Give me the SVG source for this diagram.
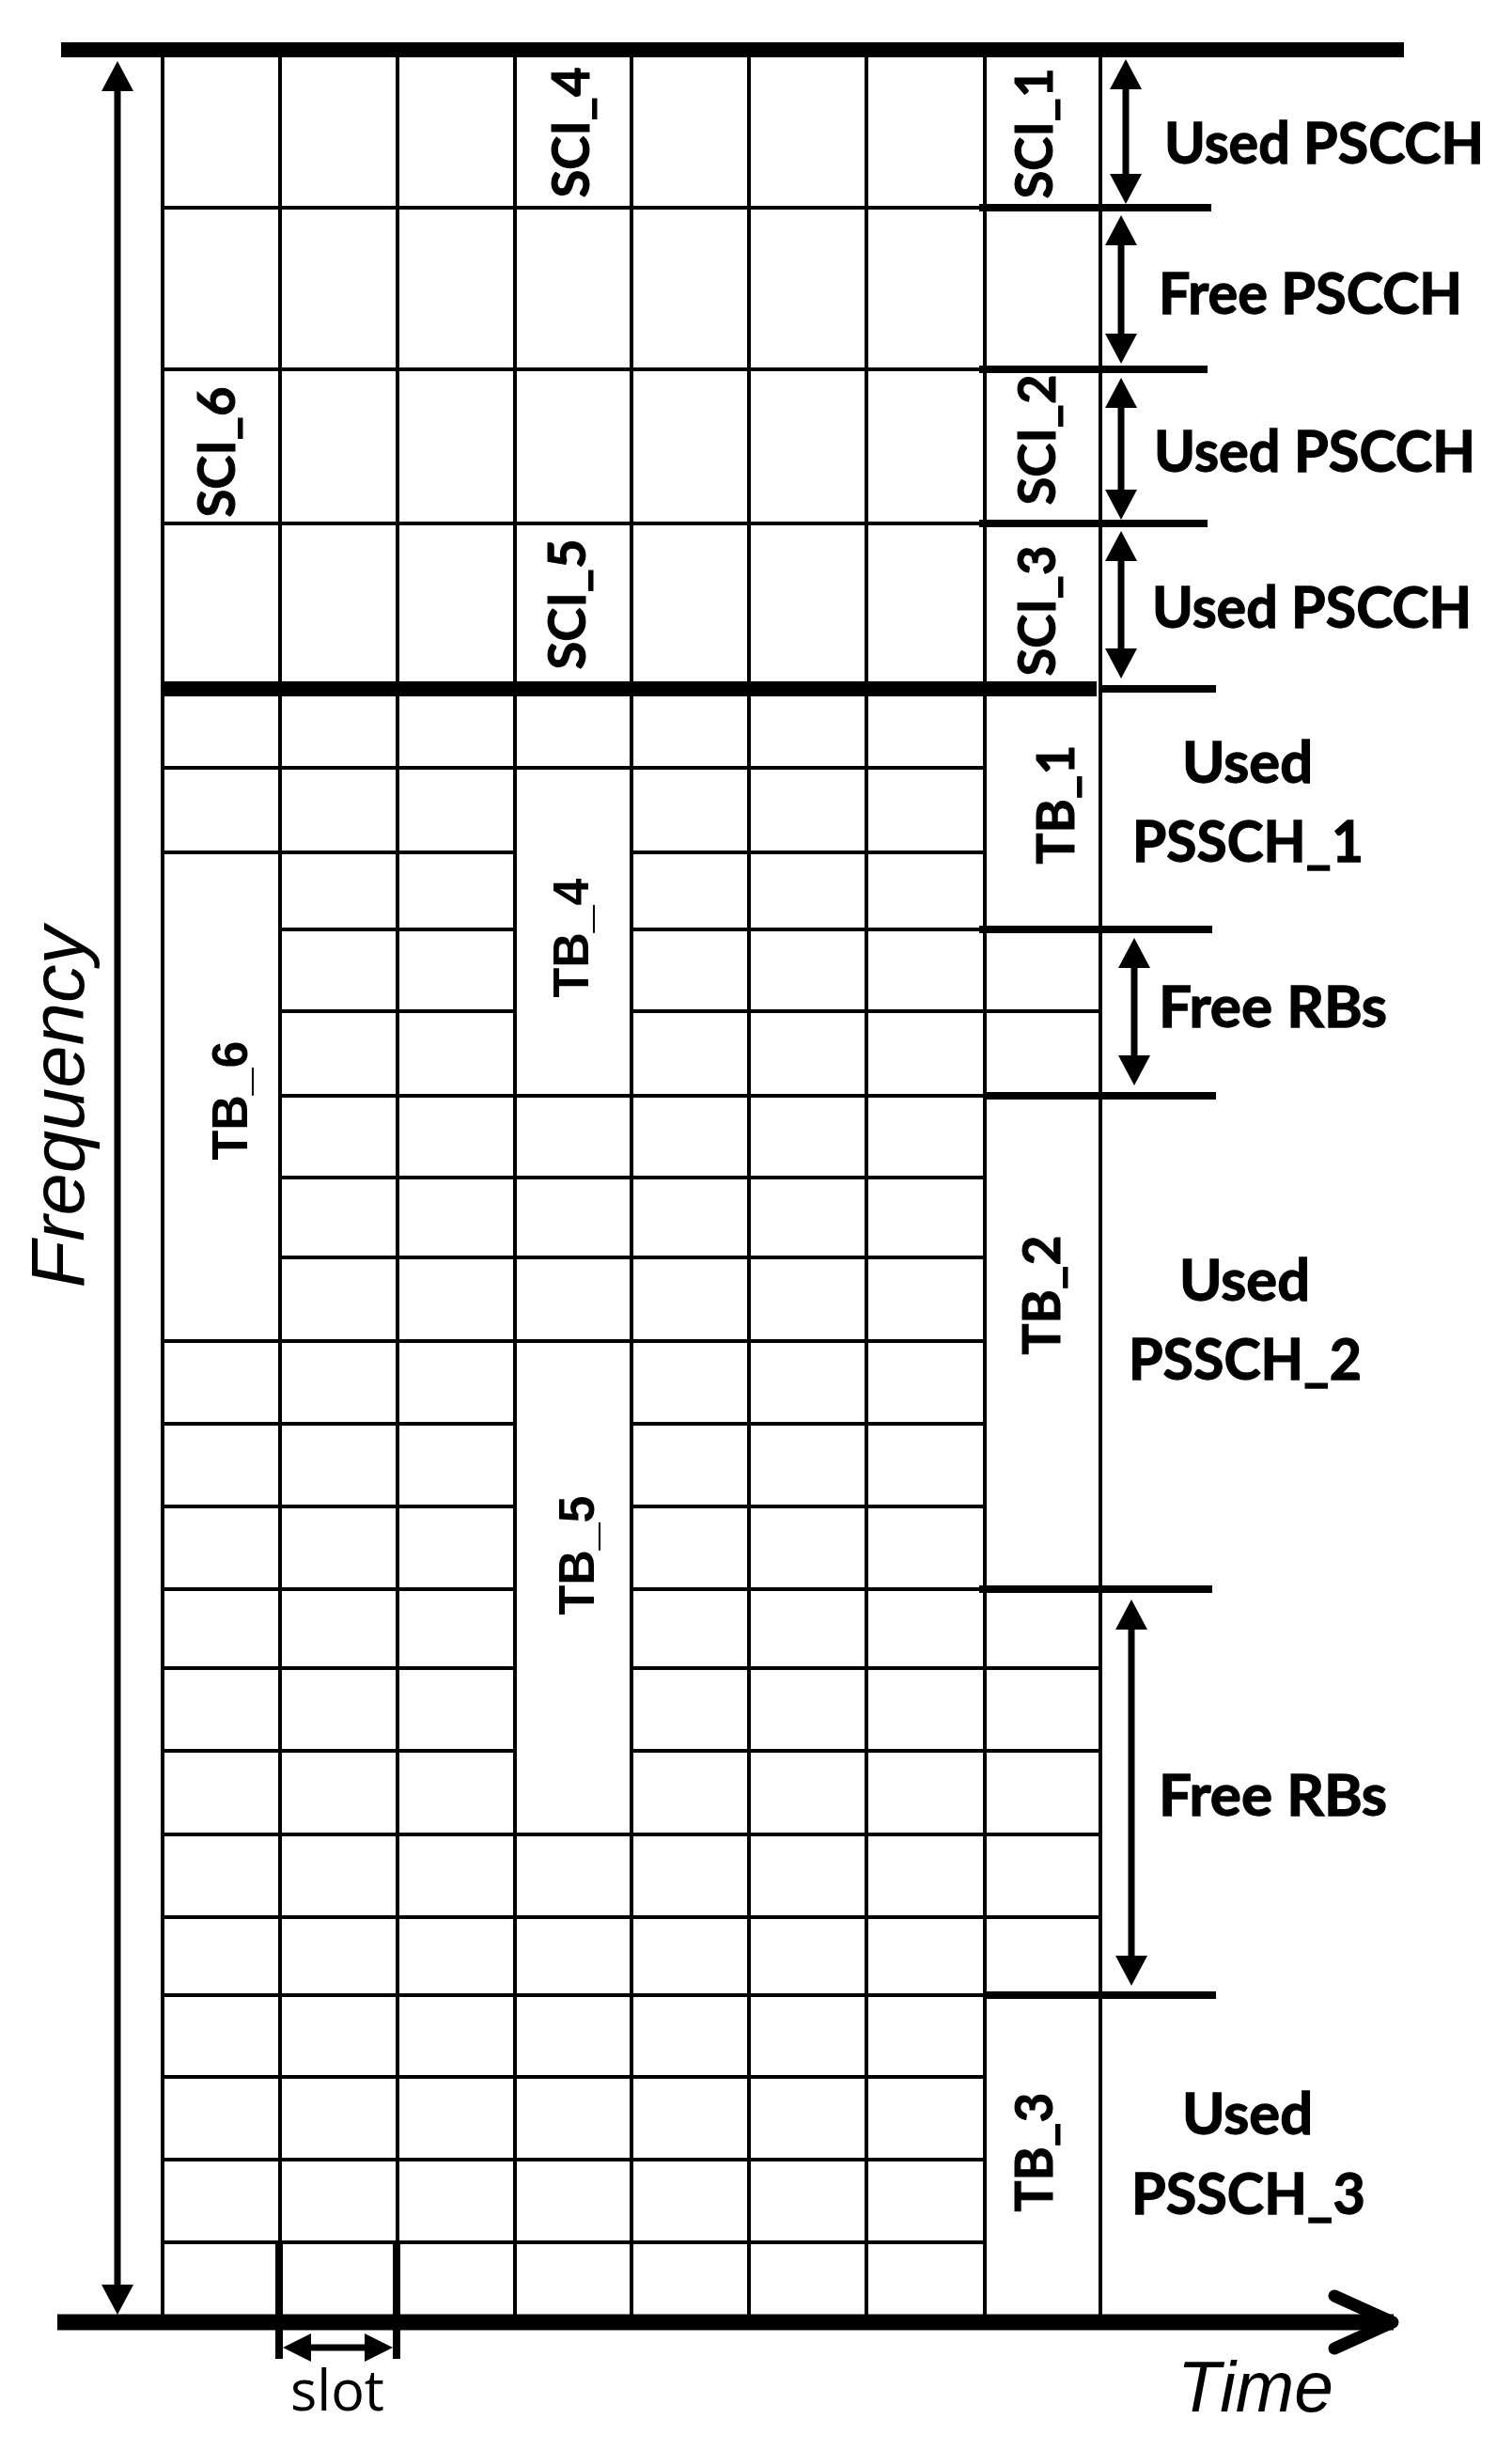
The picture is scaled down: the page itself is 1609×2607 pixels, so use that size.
<svg xmlns="http://www.w3.org/2000/svg" width="1609" height="2607" viewBox="0 0 1609 2607">
<defs>
<style>
.g{stroke:#000;stroke-width:4;fill:none}
.ext{stroke:#000;stroke-width:8;fill:none}
.thk{stroke:#000;stroke-width:16;fill:none}
.arr{stroke:#000;stroke-width:7;fill:none}
.lab{font-family:Lato,"Liberation Sans",sans-serif;font-weight:700;font-size:61px;fill:#000;stroke:#000;stroke-width:1.3px}
.rc{font-family:Lato,"Liberation Sans",sans-serif;font-weight:700;font-size:56px;fill:#000;text-anchor:middle;stroke:#000;stroke-width:1px}
.ra{font-family:"Liberation Sans",Arial,sans-serif;font-weight:700;font-size:54px;fill:#000;text-anchor:middle}
.ax{font-family:"Liberation Sans",Arial,sans-serif;font-style:italic;fill:#000}
</style>
<marker id="ah" markerUnits="userSpaceOnUse" markerWidth="32" markerHeight="34" refX="16" refY="17" orient="auto-start-reverse" viewBox="0 0 32 34"><path d="M0,0 L32,17 L0,34 z" fill="#000"/></marker>
<marker id="ahs" markerUnits="userSpaceOnUse" markerWidth="30" markerHeight="30" refX="15" refY="15" orient="auto-start-reverse" viewBox="0 0 30 30"><path d="M0,0 L30,15 L0,30 z" fill="#000"/></marker>
</defs>
<rect x="0" y="0" width="1609" height="2607" fill="#fff"/>

<g id="grid">
  <g class="g">
    <line x1="173" y1="53" x2="173" y2="2471"/>
    <line x1="298" y1="53" x2="298" y2="2471"/>
    <line x1="423" y1="53" x2="423" y2="2471"/>
    <line x1="548" y1="53" x2="548" y2="2471"/>
    <line x1="672" y1="53" x2="672" y2="2471"/>
    <line x1="797" y1="53" x2="797" y2="2471"/>
    <line x1="922" y1="53" x2="922" y2="2471"/>
    <line x1="1048" y1="53" x2="1048" y2="2471"/>
    <line x1="1171" y1="53" x2="1171" y2="2471"/>
  </g>
  <g class="g">
    <line x1="173" y1="221" x2="1048" y2="221"/>
    <line x1="173" y1="393" x2="1048" y2="393"/>
    <line x1="173" y1="557" x2="1048" y2="557"/>
  </g>
  <g class="g">
    <path d="M173,817H1048"/>
    <path d="M173,907H548M672,907H1048"/>
    <path d="M298,989H548M672,989H1048"/>
    <path d="M298,1076H548M672,1076H1171"/>
    <path d="M298,1166H1048"/>
    <path d="M298,1253H1048"/>
    <path d="M298,1338H1048"/>
    <path d="M173,1427H1048"/>
    <path d="M173,1515H548M672,1515H1048"/>
    <path d="M173,1603H548M672,1603H1048"/>
    <path d="M173,1691H548M672,1691H1048"/>
    <path d="M173,1775H548M672,1775H1171"/>
    <path d="M173,1863H548M672,1863H1171"/>
    <path d="M173,1952H1171"/>
    <path d="M173,2040H1171"/>
    <path d="M173,2123H1048"/>
    <path d="M173,2210H1048"/>
    <path d="M173,2298H1048"/>
    <path d="M173,2386H1048"/>
  </g>
  <g class="ext">
    <path d="M1042,221H1289"/>
    <path d="M1042,393H1285"/>
    <path d="M1042,557H1285"/>
    <path d="M1171,733H1294"/>
    <path d="M1042,989H1290"/>
    <path d="M1048,1166H1294"/>
    <path d="M1042,1691H1290"/>
    <path d="M1048,2123H1294"/>
  </g>
  <line class="thk" x1="65" y1="53" x2="1494" y2="53"/>
  <line class="thk" x1="173" y1="733" x2="1167" y2="733"/>
</g>

<g id="axes">
  <line x1="61" y1="2471" x2="1483" y2="2471" stroke="#000" stroke-width="17"/>
  <polyline points="1420,2443 1482,2471 1420,2499" fill="none" stroke="#000" stroke-width="13" stroke-linejoin="round" stroke-linecap="round"/>
  <line x1="297" y1="2386" x2="297" y2="2510" stroke="#000" stroke-width="8"/>
  <line x1="422" y1="2386" x2="422" y2="2510" stroke="#000" stroke-width="8"/>
</g>

<g id="connectors">
  <line class="arr" x1="125" y1="81" x2="125" y2="2447" marker-start="url(#ah)" marker-end="url(#ah)"/>
  <line class="arr" x1="1198" y1="79" x2="1198" y2="201" marker-start="url(#ah)" marker-end="url(#ah)"/>
  <line class="arr" x1="1193" y1="245" x2="1193" y2="371" marker-start="url(#ah)" marker-end="url(#ah)"/>
  <line class="arr" x1="1193" y1="418" x2="1193" y2="537" marker-start="url(#ah)" marker-end="url(#ah)"/>
  <line class="arr" x1="1193" y1="581" x2="1193" y2="706" marker-start="url(#ah)" marker-end="url(#ah)"/>
  <line class="arr" x1="1207" y1="1014" x2="1207" y2="1139" marker-start="url(#ah)" marker-end="url(#ah)"/>
  <line class="arr" x1="1204" y1="1718" x2="1204" y2="2097" marker-start="url(#ah)" marker-end="url(#ah)"/>
  <line class="arr" x1="316" y1="2498" x2="403" y2="2498" marker-start="url(#ahs)" marker-end="url(#ahs)"/>
</g>

<g id="sci-labels">
  <g id="SCI_1"><text class="rc" transform="translate(1120,142) rotate(-90)" textLength="139" lengthAdjust="spacingAndGlyphs">SCI_1</text></g>
  <g id="SCI_2"><text class="rc" transform="translate(1123,468) rotate(-90)" textLength="139" lengthAdjust="spacingAndGlyphs">SCI_2</text></g>
  <g id="SCI_3"><text class="rc" transform="translate(1123,650) rotate(-90)" textLength="139" lengthAdjust="spacingAndGlyphs">SCI_3</text></g>
  <g id="SCI_4"><text class="rc" transform="translate(627,141) rotate(-90)" textLength="139" lengthAdjust="spacingAndGlyphs">SCI_4</text></g>
  <g id="SCI_5"><text class="rc" transform="translate(623,643) rotate(-90)" textLength="139" lengthAdjust="spacingAndGlyphs">SCI_5</text></g>
  <g id="SCI_6"><text class="rc" transform="translate(250,481) rotate(-90)" textLength="139" lengthAdjust="spacingAndGlyphs">SCI_6</text></g>
</g>

<g id="tb-labels">
  <g id="TB_1"><text class="rc" transform="translate(1143,856) rotate(-90)" textLength="127" lengthAdjust="spacingAndGlyphs">TB_1</text></g>
  <g id="TB_2"><text class="rc" transform="translate(1128,1378) rotate(-90)" textLength="127" lengthAdjust="spacingAndGlyphs">TB_2</text></g>
  <g id="TB_3"><text class="rc" transform="translate(1120,2290) rotate(-90)" textLength="127" lengthAdjust="spacingAndGlyphs">TB_3</text></g>
  <g id="TB_4"><text class="ra" transform="translate(626,998) rotate(-90)" textLength="127" lengthAdjust="spacingAndGlyphs">TB_4</text></g>
  <g id="TB_5"><text class="ra" transform="translate(632,1655) rotate(-90)" textLength="127" lengthAdjust="spacingAndGlyphs">TB_5</text></g>
  <g id="TB_6"><text class="ra" transform="translate(263,1171) rotate(-90)" textLength="127" lengthAdjust="spacingAndGlyphs">TB_6</text></g>
</g>

<g id="right-labels">
  <g id="used-pscch-1"><text class="lab" x="1239" y="174" textLength="340" lengthAdjust="spacingAndGlyphs">Used PSCCH</text></g>
  <g id="free-pscch"><text class="lab" x="1233" y="334" textLength="323" lengthAdjust="spacingAndGlyphs">Free PSCCH</text></g>
  <g id="used-pscch-2"><text class="lab" x="1228" y="502" textLength="342" lengthAdjust="spacingAndGlyphs">Used PSCCH</text></g>
  <g id="used-pscch-3"><text class="lab" x="1226" y="668" textLength="340" lengthAdjust="spacingAndGlyphs">Used PSCCH</text></g>
  <g id="used-pssch-1">
    <text class="lab" x="1258" y="833" textLength="139" lengthAdjust="spacingAndGlyphs">Used</text>
    <text class="lab" x="1205" y="917" textLength="246" lengthAdjust="spacingAndGlyphs">PSSCH_1</text>
  </g>
  <g id="free-rbs-1"><text class="lab" x="1233" y="1093" textLength="243" lengthAdjust="spacingAndGlyphs">Free RBs</text></g>
  <g id="used-pssch-2">
    <text class="lab" x="1255" y="1384" textLength="139" lengthAdjust="spacingAndGlyphs">Used</text>
    <text class="lab" x="1201" y="1468" textLength="248" lengthAdjust="spacingAndGlyphs">PSSCH_2</text>
  </g>
  <g id="free-rbs-2"><text class="lab" x="1233" y="1932" textLength="243" lengthAdjust="spacingAndGlyphs">Free RBs</text></g>
  <g id="used-pssch-3">
    <text class="lab" x="1258" y="2271" textLength="139" lengthAdjust="spacingAndGlyphs">Used</text>
    <text class="lab" x="1204" y="2356" textLength="249" lengthAdjust="spacingAndGlyphs">PSSCH_3</text>
  </g>
</g>

<g id="axis-labels">
  <g id="frequency"><text class="ax" font-size="80" text-anchor="middle" transform="translate(89,1178) rotate(-90)" textLength="385" lengthAdjust="spacingAndGlyphs">Frequency</text></g>
  <g id="time"><text class="ax" font-size="76" x="1253" y="2566" textLength="166" lengthAdjust="spacingAndGlyphs">Time</text></g>
  <g id="slot"><text x="309" y="2565" font-family="'Open Sans','Liberation Sans',sans-serif" font-size="60" fill="#000" textLength="100" lengthAdjust="spacingAndGlyphs">slot</text></g>
</g>
</svg>
